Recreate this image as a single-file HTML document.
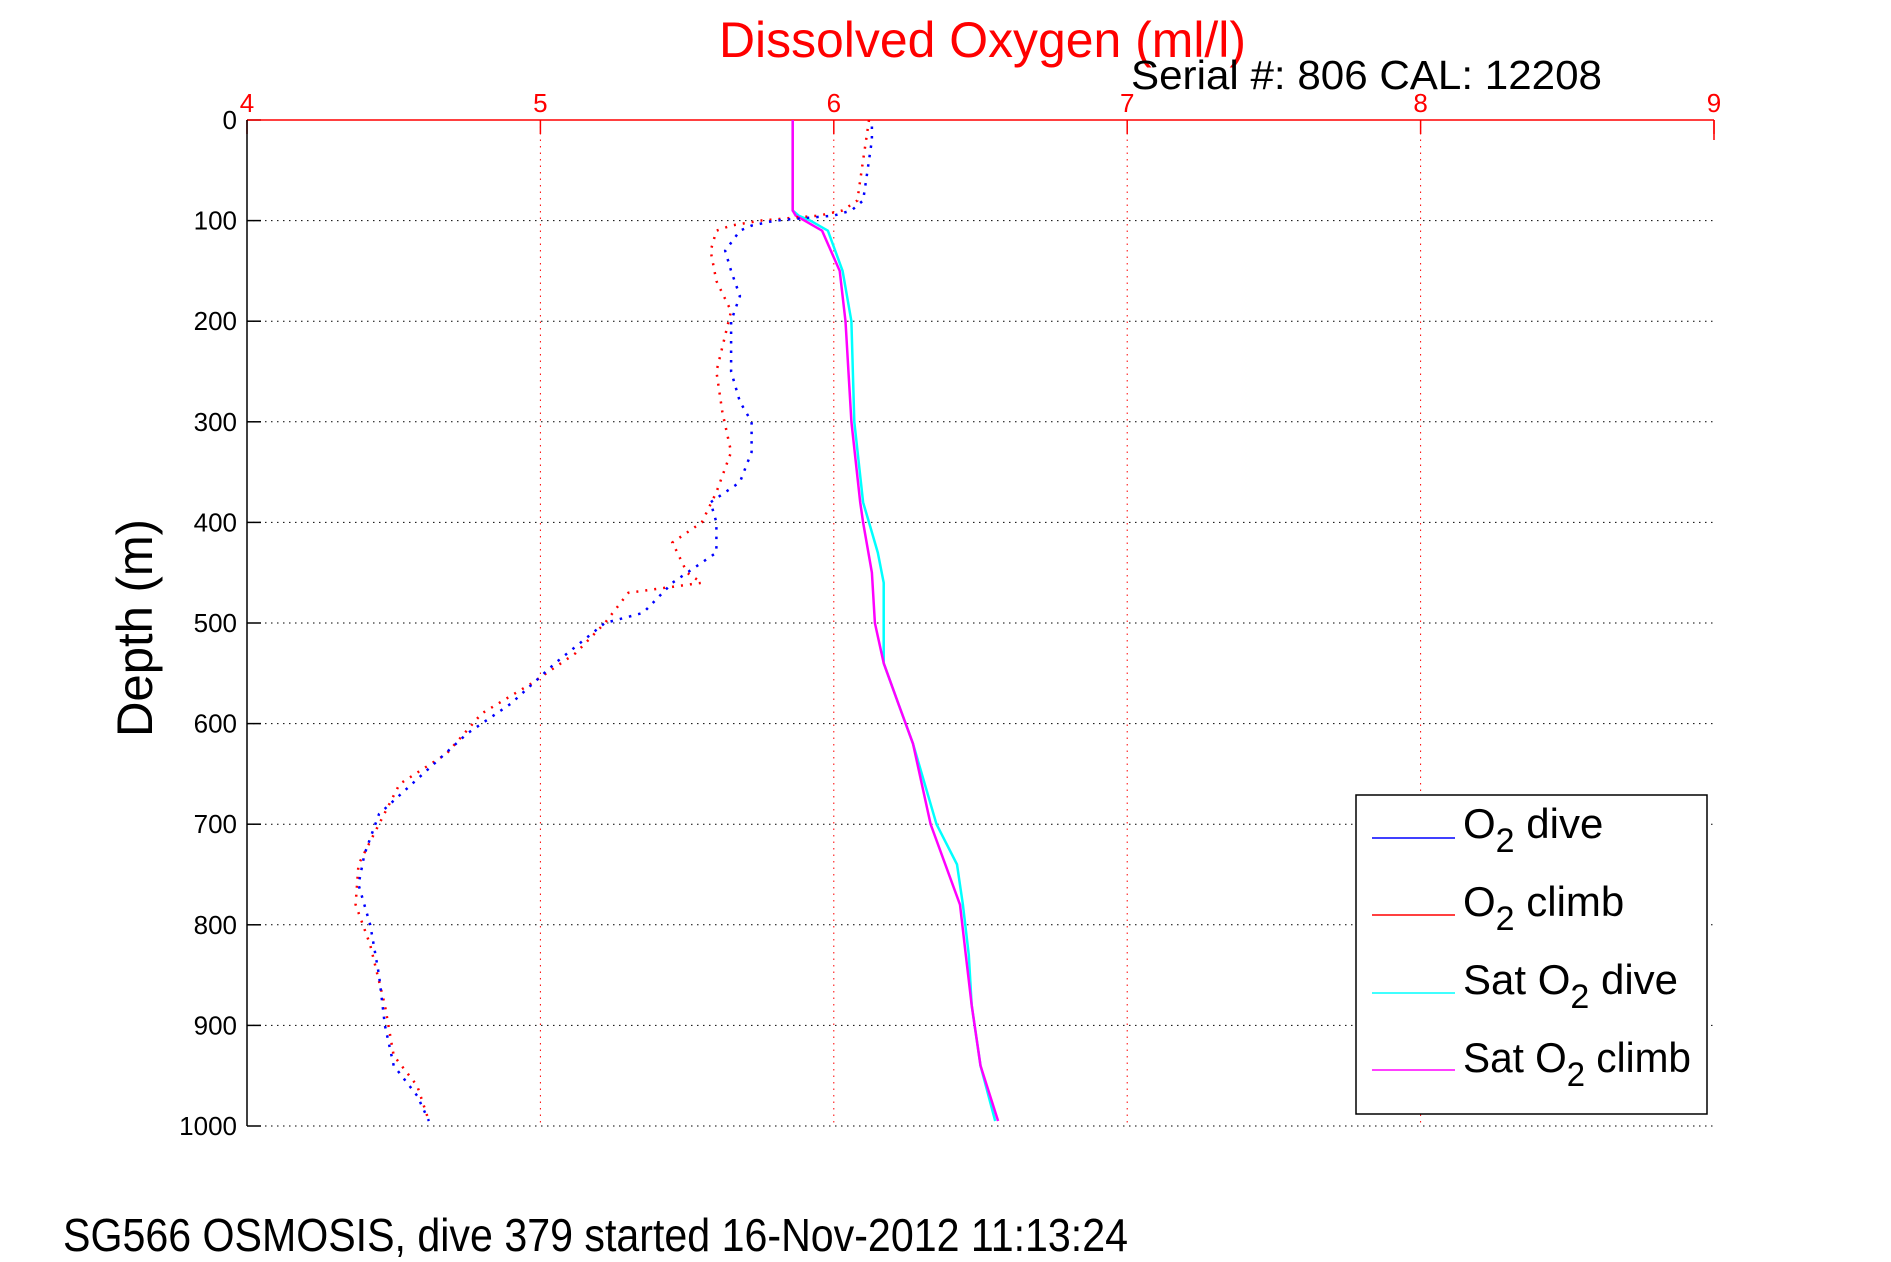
<!DOCTYPE html>
<html><head><meta charset="utf-8"><style>
html,body{margin:0;padding:0;background:#fff}
svg{display:block;font-family:"Liberation Sans",Arial,sans-serif}
</style></head><body>
<svg id="chart" width="1891" height="1262" viewBox="0 0 1891 1262" xmlns="http://www.w3.org/2000/svg">
<rect width="1891" height="1262" fill="#fff"/>
<text x="719" y="57" font-size="50" fill="#f00" textLength="527" lengthAdjust="spacingAndGlyphs">Dissolved Oxygen (ml/l)</text>
<text x="1131" y="89" font-size="41" fill="#000" textLength="471" lengthAdjust="spacingAndGlyphs">Serial #: 806  CAL: 12208</text>
<text transform="translate(152,628) rotate(-90)" text-anchor="middle" font-size="50" fill="#000" textLength="218" lengthAdjust="spacingAndGlyphs">Depth (m)</text>
<text x="63" y="1251" font-size="46" fill="#000" textLength="1065" lengthAdjust="spacingAndGlyphs">SG566 OSMOSIS, dive 379 started 16-Nov-2012 11:13:24</text>
<g id="grid"></g>
<g id="axes"></g>
<g id="series"></g>
<g>
<rect x="1356" y="795" width="351" height="319" fill="#fff" stroke="#000" stroke-width="1.5"/>
<line x1="1372" y1="838" x2="1455" y2="838" stroke="#00f" stroke-width="1.5"/>
<line x1="1372" y1="915" x2="1455" y2="915" stroke="#f00" stroke-width="1.5"/>
<line x1="1372" y1="993" x2="1455" y2="993" stroke="#0ff" stroke-width="1.5"/>
<line x1="1372" y1="1070" x2="1455" y2="1070" stroke="#f0f" stroke-width="1.5"/>
<text x="1463" y="838" font-size="42">O<tspan font-size="34" dy="14">2</tspan><tspan dy="-14"> dive</tspan></text>
<text x="1463" y="916" font-size="42">O<tspan font-size="34" dy="14">2</tspan><tspan dy="-14"> climb</tspan></text>
<text x="1463" y="994" font-size="42">Sat O<tspan font-size="34" dy="14">2</tspan><tspan dy="-14"> dive</tspan></text>
<text x="1463" y="1072" font-size="42" textLength="228" lengthAdjust="spacingAndGlyphs">Sat O<tspan font-size="34" dy="14">2</tspan><tspan dy="-14"> climb</tspan></text>
</g>
</svg>
<script>
const xTicks = [4,5,6,7,8,9];
const yTicks = [0,100,200,300,400,500,600,700,800,900,1000];
const o2DiveDepth = [0,20,40,60,80,90,95,100,105,110,130,150,175,200,250,280,300,330,360,380,400,430,460,490,500,540,580,610,650,690,730,760,800,850,900,940,970,995];
const o2DiveVal   = [6.13,6.13,6.12,6.11,6.1,6.06,6.0,5.8,5.72,5.68,5.63,5.65,5.68,5.65,5.65,5.68,5.72,5.72,5.68,5.58,5.6,5.6,5.45,5.35,5.22,5.05,4.9,4.75,4.6,4.45,4.4,4.38,4.42,4.45,4.47,4.5,4.58,4.62];
const o2ClimbDepth = [0,20,40,60,80,90,95,100,105,110,130,160,190,250,290,330,370,400,420,450,460,470,500,530,560,590,630,660,700,740,780,820,880,930,960,995];
const o2ClimbVal   = [6.12,6.11,6.1,6.09,6.08,6.03,5.95,5.75,5.65,5.6,5.58,5.6,5.65,5.6,5.62,5.65,5.6,5.55,5.45,5.5,5.55,5.3,5.22,5.12,4.97,4.8,4.68,4.52,4.45,4.38,4.37,4.42,4.47,4.5,4.58,4.62];
const satDiveDepth = [0,90,95,100,110,150,200,300,380,400,430,460,500,540,580,620,650,700,740,780,830,880,940,995];
const satDiveVal   = [5.86,5.86,5.88,5.92,5.98,6.03,6.06,6.07,6.1,6.12,6.15,6.17,6.17,6.17,6.22,6.27,6.3,6.35,6.42,6.44,6.46,6.47,6.5,6.55];
const satClimbDepth = [0,90,95,100,110,150,200,300,380,400,450,500,540,580,620,660,700,740,780,830,880,940,995];
const satClimbVal   = [5.86,5.86,5.87,5.9,5.96,6.02,6.04,6.06,6.09,6.1,6.13,6.14,6.17,6.22,6.27,6.3,6.33,6.38,6.43,6.45,6.47,6.5,6.56];

const X0=247, X1=1714, Y0=120, Y1=1126;
const sx = v => X0 + (v-4)/(9-4)*(X1-X0);
const sy = d => Y0 + d/1000*(Y1-Y0);
const NS="http://www.w3.org/2000/svg";
function mk(tag, parent, attrs){const e=document.createElementNS(NS,tag);for(const k in attrs)e.setAttribute(k,attrs[k]);parent.appendChild(e);return e;}
const gridG=document.getElementById('grid'), axesG=document.getElementById('axes'), seriesG=document.getElementById('series');

yTicks.forEach(d=>{
  const g=mk('line',gridG,{x1:X0,x2:X1,y1:sy(d),y2:sy(d),stroke:'#000','stroke-width':1,'stroke-dasharray':'1.5 4.5'});
  
  
  const t=mk('line',axesG,{x1:X0,x2:X0+14,y1:sy(d),y2:sy(d),stroke:'#000','stroke-width':1.5});
  
  
  const l=mk('text',axesG,{x:X0-10,y:sy(d)+9,'text-anchor':'end','font-size':26,fill:'#000'});
  
  
  l.textContent=d;
});
xTicks.forEach(v=>{
  if(v>4&&v<9){
    const g=mk('line',gridG,{x1:sx(v),x2:sx(v),y1:Y0,y2:Y1,stroke:'#f00','stroke-width':1,'stroke-dasharray':'1.5 5'});
    
    
  }
  const t=mk('line',axesG,{x1:sx(v),x2:sx(v),y1:Y0,y2:Y0+14,stroke:'#f00','stroke-width':1.5});
  
  
  const l=mk('text',axesG,{x:sx(v),y:Y0-8,'text-anchor':'middle','font-size':26,fill:'#f00'});
  
  
  l.textContent=v;
});
const topAxis=mk('line',axesG,{x1:X0,x2:X1,y1:Y0,y2:Y0,stroke:'#f00','stroke-width':1.5});


const rightEdge=mk('line',axesG,{x1:X1,x2:X1,y1:Y0,y2:Y0+20,stroke:'#f00','stroke-width':1.5});


const leftAxis=mk('line',axesG,{x1:X0,x2:X0,y1:Y0,y2:Y1,stroke:'#000','stroke-width':1.5});



function pts(ds,vs){return ds.map((d,i)=>sx(vs[i]).toFixed(1)+','+sy(d).toFixed(1)).join(' ');}
const s1=mk('polyline',seriesG,{points:pts(satDiveDepth,satDiveVal),fill:'none',stroke:'#0ff','stroke-width':2.5});


const s2=mk('polyline',seriesG,{points:pts(satClimbDepth,satClimbVal),fill:'none',stroke:'#f0f','stroke-width':2.5});


const s3=mk('polyline',seriesG,{points:pts(o2ClimbDepth,o2ClimbVal),fill:'none',stroke:'#f00','stroke-width':2.5,'stroke-dasharray':'2 7'});


const s4=mk('polyline',seriesG,{points:pts(o2DiveDepth,o2DiveVal),fill:'none',stroke:'#00f','stroke-width':2.5,'stroke-dasharray':'2.5 7','stroke-dashoffset':3});


</script>
</body></html>
